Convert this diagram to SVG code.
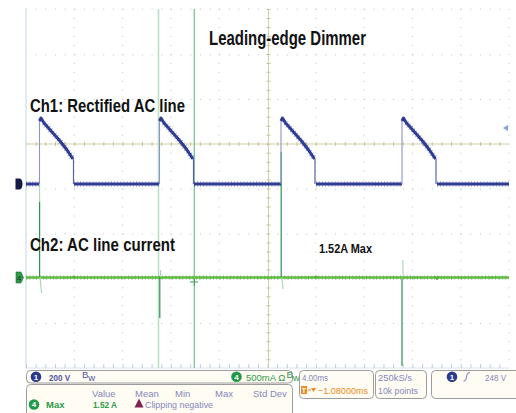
<svg xmlns="http://www.w3.org/2000/svg" width="516" height="413" viewBox="0 0 516 413">
<style>
.grid{stroke:#bcc2cb;stroke-width:1;stroke-dasharray:1 8.66;fill:none}
.gridv{stroke:#bcc2cb;stroke-width:1;stroke-dasharray:1 7.98;fill:none}
.tan{stroke:#d2cfa6;stroke-width:1;fill:none}
.tanh{stroke:#c9c59a;stroke-width:4;stroke-dasharray:1 8.66;fill:none}
.tanv{stroke:#c9c59a;stroke-width:4;stroke-dasharray:1 7.98;fill:none}
.ch1{stroke:#2d3b92;stroke-width:3;fill:none;stroke-linejoin:round}
.ch1n{stroke:#3a48a0;stroke-width:5.5;stroke-dasharray:0.8 2.3;fill:none;opacity:0.55}
.ch1e{stroke:#8f93cf;stroke-width:1.1;fill:none}
.ch1d{stroke:#5a63b0;stroke-width:1.2;fill:none}
.ch2{stroke:#5fbd40;stroke-width:2.6;fill:none}
.ch2n{stroke:#4aa634;stroke-width:5;stroke-dasharray:0.8 2.6;fill:none;opacity:0.5}
.sp{stroke:#2f9250;stroke-width:1.2;fill:none}
.spl{stroke:#a6d6b4;stroke-width:1.1;fill:none}
.lbl{font-family:"Liberation Sans",Arial,sans-serif;font-weight:bold;fill:#111}
.box{fill:#fffcf3;stroke:#9c9c9c;stroke-width:1}
.t{font-family:"Liberation Sans",Arial,sans-serif;font-size:9.5px}
.bl{fill:#4f54a0}
.gy{fill:#8487bb}
.gr{fill:#2e9a4a}
.or{fill:#ef8a22}
.badge{font-family:"Liberation Sans",Arial,sans-serif;font-size:8px;font-weight:bold;fill:#fff;text-anchor:middle}
</style>
<rect width="516" height="413" fill="#ffffff"/>
<g id="grid">
<line class="grid" x1="26" y1="9" x2="509" y2="9"/>
<line class="grid" x1="26" y1="55" x2="509" y2="55"/>
<line class="grid" x1="26" y1="99.5" x2="509" y2="99.5"/>
<line class="grid" x1="26" y1="189" x2="509" y2="189"/>
<line class="grid" x1="26" y1="234" x2="509" y2="234"/>
<line class="grid" x1="26" y1="279" x2="509" y2="279"/>
<line class="grid" x1="26" y1="323.5" x2="509" y2="323.5"/>
<line class="gridv" x1="74.3" y1="9" x2="74.3" y2="368"/>
<line class="gridv" x1="122.6" y1="9" x2="122.6" y2="368"/>
<line class="gridv" x1="170.9" y1="9" x2="170.9" y2="368"/>
<line class="gridv" x1="219.2" y1="9" x2="219.2" y2="368"/>
<line class="gridv" x1="315.8" y1="9" x2="315.8" y2="368"/>
<line class="gridv" x1="364.1" y1="9" x2="364.1" y2="368"/>
<line class="gridv" x1="412.4" y1="9" x2="412.4" y2="368"/>
<line class="gridv" x1="460.7" y1="9" x2="460.7" y2="368"/>
<line class="gridv" x1="509" y1="9" x2="509" y2="368"/>
<line class="tan" x1="26" y1="144" x2="509" y2="144"/>
<line class="tanh" x1="26" y1="144" x2="509" y2="144"/>
<line class="tan" x1="268.5" y1="9" x2="268.5" y2="368"/>
<line class="tanv" x1="268.5" y1="9" x2="268.5" y2="368"/>
<line x1="26" y1="9" x2="26" y2="368" stroke="#d6e5f2" stroke-width="1.5"/>
<line x1="26" y1="368" x2="509" y2="368" stroke="#d6e2ee" stroke-width="1"/>
<line x1="26" y1="366" x2="509" y2="366" stroke="#c4ccd6" stroke-width="4" stroke-dasharray="1 8.66"/>
</g>
<g id="cursors">
<line x1="158.5" y1="9" x2="158.5" y2="368" stroke="#b7e0c6" stroke-width="1.6"/>
<line x1="194.3" y1="9" x2="194.3" y2="368" stroke="#6cc28f" stroke-width="1.2"/>
<path d="M190 282 H198 M194.3 278 V286" stroke="#3c9e5c" stroke-width="1"/>
</g>
<g id="ch2-trace">
<path class="ch2" d="M26 277.5 H509"/>
<path class="ch2n" d="M26 277.5 H509"/>
<path d="M72 278 q2 -4 4 0 M314 278 q2 -4 4 0 M435 276 l2 4 l2 -4" stroke="#4aa634" stroke-width="1" fill="none"/>
<path class="spl" d="M39.6 184 V202"/>
<path class="sp" d="M39.6 202 V277"/>
<path class="spl" d="M40 277 L41.5 293"/>
<path class="sp" d="M159.8 277 V318"/>
<path class="spl" d="M160.5 270 V277"/>
<path class="sp" d="M281.2 152 V277"/>
<path class="spl" d="M281.8 277 L283 289"/>
<path class="sp" d="M402 279 V366"/>
<path class="spl" d="M402.8 260 L403.2 276"/>
</g>
<g id="ch1-trace">
<path class="ch1" d="M26 184 H39 M74 184 H159 M194 184 H281 M316 184 H402 M437 184 H509"/>
<path class="ch1n" d="M26 184 H39 M74 184 H159 M194 184 H281 M316 184 H402 M437 184 H509"/>
<path class="ch1e" d="M39.5 184 V120 M159.5 184 V120 M281 184 V120 M402 184 V120"/>
<path class="ch1" d="M39.5 121 L41 118 L44 123 L52 132 L60 141 L67 150 L73 159"/>
<path class="ch1" d="M159.5 121 L161 118 L164 123 L172 132 L180 141 L187 150 L193 159"/>
<path class="ch1" d="M281 121 L282.5 118 L285.5 123 L293.5 132 L301.5 141 L308.5 150 L314.5 159"/>
<path class="ch1" d="M402 121 L403.5 118 L406.5 123 L414.5 132 L422.5 141 L429.5 150 L435.5 159"/>
<path class="ch1n" d="M44 123 L52 132 L60 141 L67 150 L73 159 M164 123 L172 132 L180 141 L187 150 L193 159 M285.5 123 L293.5 132 L301.5 141 L308.5 150 L314.5 159 M406.5 123 L414.5 132 L422.5 141 L429.5 150 L435.5 159"/>
<path class="ch1d" d="M73.5 159 V184 M193.5 159 V184 M315 159 V184 M436 159 V184"/>
</g>
<g id="markers">
<path d="M15.5 178.5 H19 Q22.5 178.5 22.5 184 Q22.5 189.5 19 189.5 H15.5 Z" fill="#141a45"/>
<path d="M16 272 H21 L23.5 277.5 L21 283 H16 Z" fill="#2e9a4a" stroke="#1d6e33" stroke-width="0.6"/>
<text x="19" y="280.5" class="badge" style="fill:#1a3a22;font-weight:normal">4</text>
<path d="M503 128 L508 125 V131 Z" fill="#7fa4d4"/>
</g>
<g id="labels">
<text class="lbl" x="209" y="45" font-size="21" textLength="157" lengthAdjust="spacingAndGlyphs">Leading-edge Dimmer</text>
<text class="lbl" x="30" y="112" font-size="18" textLength="155" lengthAdjust="spacingAndGlyphs">Ch1: Rectified AC line</text>
<text class="lbl" x="30" y="251" font-size="18.5" textLength="145" lengthAdjust="spacingAndGlyphs">Ch2: AC line current</text>
<text class="lbl" x="319" y="253" font-size="13.5" textLength="53" lengthAdjust="spacingAndGlyphs">1.52A Max</text>
</g>
<g id="panel-channels">
<rect class="box" x="26.5" y="370.5" width="266" height="12.5" rx="4"/>
<circle cx="36" cy="376.7" r="5.3" fill="#2b3a8f"/>
<text class="badge" x="36" y="379.6">1</text>
<text class="t bl" x="49" y="380.5" textLength="21" lengthAdjust="spacingAndGlyphs" font-weight="bold">200 V</text>
<text class="t bl" x="82" y="378" font-size="5.5px">B<tspan dy="3">w</tspan></text>
<circle cx="236.5" cy="376.7" r="5.3" fill="#1e9a4a"/>
<text class="badge" x="236.5" y="379.6">4</text>
<text class="t gr" x="246" y="380.5" font-size="7.8px">500mA Ω</text>
<text class="t gr" x="286.5" y="378" font-size="5px">B<tspan dy="3">w</tspan></text>
</g>
<g id="panel-measure">
<rect class="box" x="26.5" y="384.5" width="266" height="36" rx="4"/>
<text class="t gy" x="92" y="396.5">Value</text>
<text class="t gy" x="135" y="396.5">Mean</text>
<text class="t gy" x="175" y="396.5">Min</text>
<text class="t gy" x="215" y="396.5">Max</text>
<text class="t gy" x="253" y="396.5">Std Dev</text>
<circle cx="34" cy="404.5" r="5.3" fill="#1e9a4a"/>
<text class="badge" x="34" y="407.4">4</text>
<text class="t gr" x="46" y="408" font-weight="bold">Max</text>
<text class="t gr" x="93" y="408" textLength="24" lengthAdjust="spacingAndGlyphs" font-weight="bold">1.52 A</text>
<path d="M139 398.5 L143.5 407.5 H134.5 Z" fill="#7e2452"/>
<text class="t gy" x="145" y="408" textLength="68" lengthAdjust="spacingAndGlyphs">Clipping negative</text>
</g>
<g id="panel-timebase">
<rect class="box" x="299.5" y="370.5" width="74" height="28" rx="4"/>
<text class="t gy" x="302" y="380.5" textLength="26" lengthAdjust="spacingAndGlyphs">4.00ms</text>
<rect x="301" y="386" width="6" height="8" fill="#ef8a22"/>
<text x="304" y="392.6" font-family="Liberation Sans,sans-serif" font-size="7" font-weight="bold" fill="#fff" text-anchor="middle">T</text>
<path d="M308 390 H311" stroke="#ef8a22" stroke-width="1"/>
<path d="M311 388 L316 388 L313.5 392 Z" fill="#ef8a22"/>
<text class="t or" x="318" y="394" textLength="50" lengthAdjust="spacingAndGlyphs">−1.08000ms</text>
</g>
<g id="panel-acq">
<rect class="box" x="375.5" y="370.5" width="51" height="28" rx="4"/>
<text class="t gy" x="378" y="380.5" textLength="34" lengthAdjust="spacingAndGlyphs">250kS/s</text>
<text class="t gy" x="378" y="394" textLength="40" lengthAdjust="spacingAndGlyphs">10k points</text>
</g>
<g id="panel-trigger">
<rect class="box" x="431.5" y="370.5" width="90" height="28" rx="4"/>
<circle cx="452" cy="376.7" r="5.3" fill="#2b3a8f"/>
<text class="badge" x="452" y="379.6">1</text>
<path d="M463.5 381 Q466 381 466.5 377 Q467 372.5 470 372.5" stroke="#8487bb" stroke-width="1.1" fill="none"/>
<text class="t gy" x="485" y="380.5" textLength="21" lengthAdjust="spacingAndGlyphs">248 V</text>
</g>
</svg>
